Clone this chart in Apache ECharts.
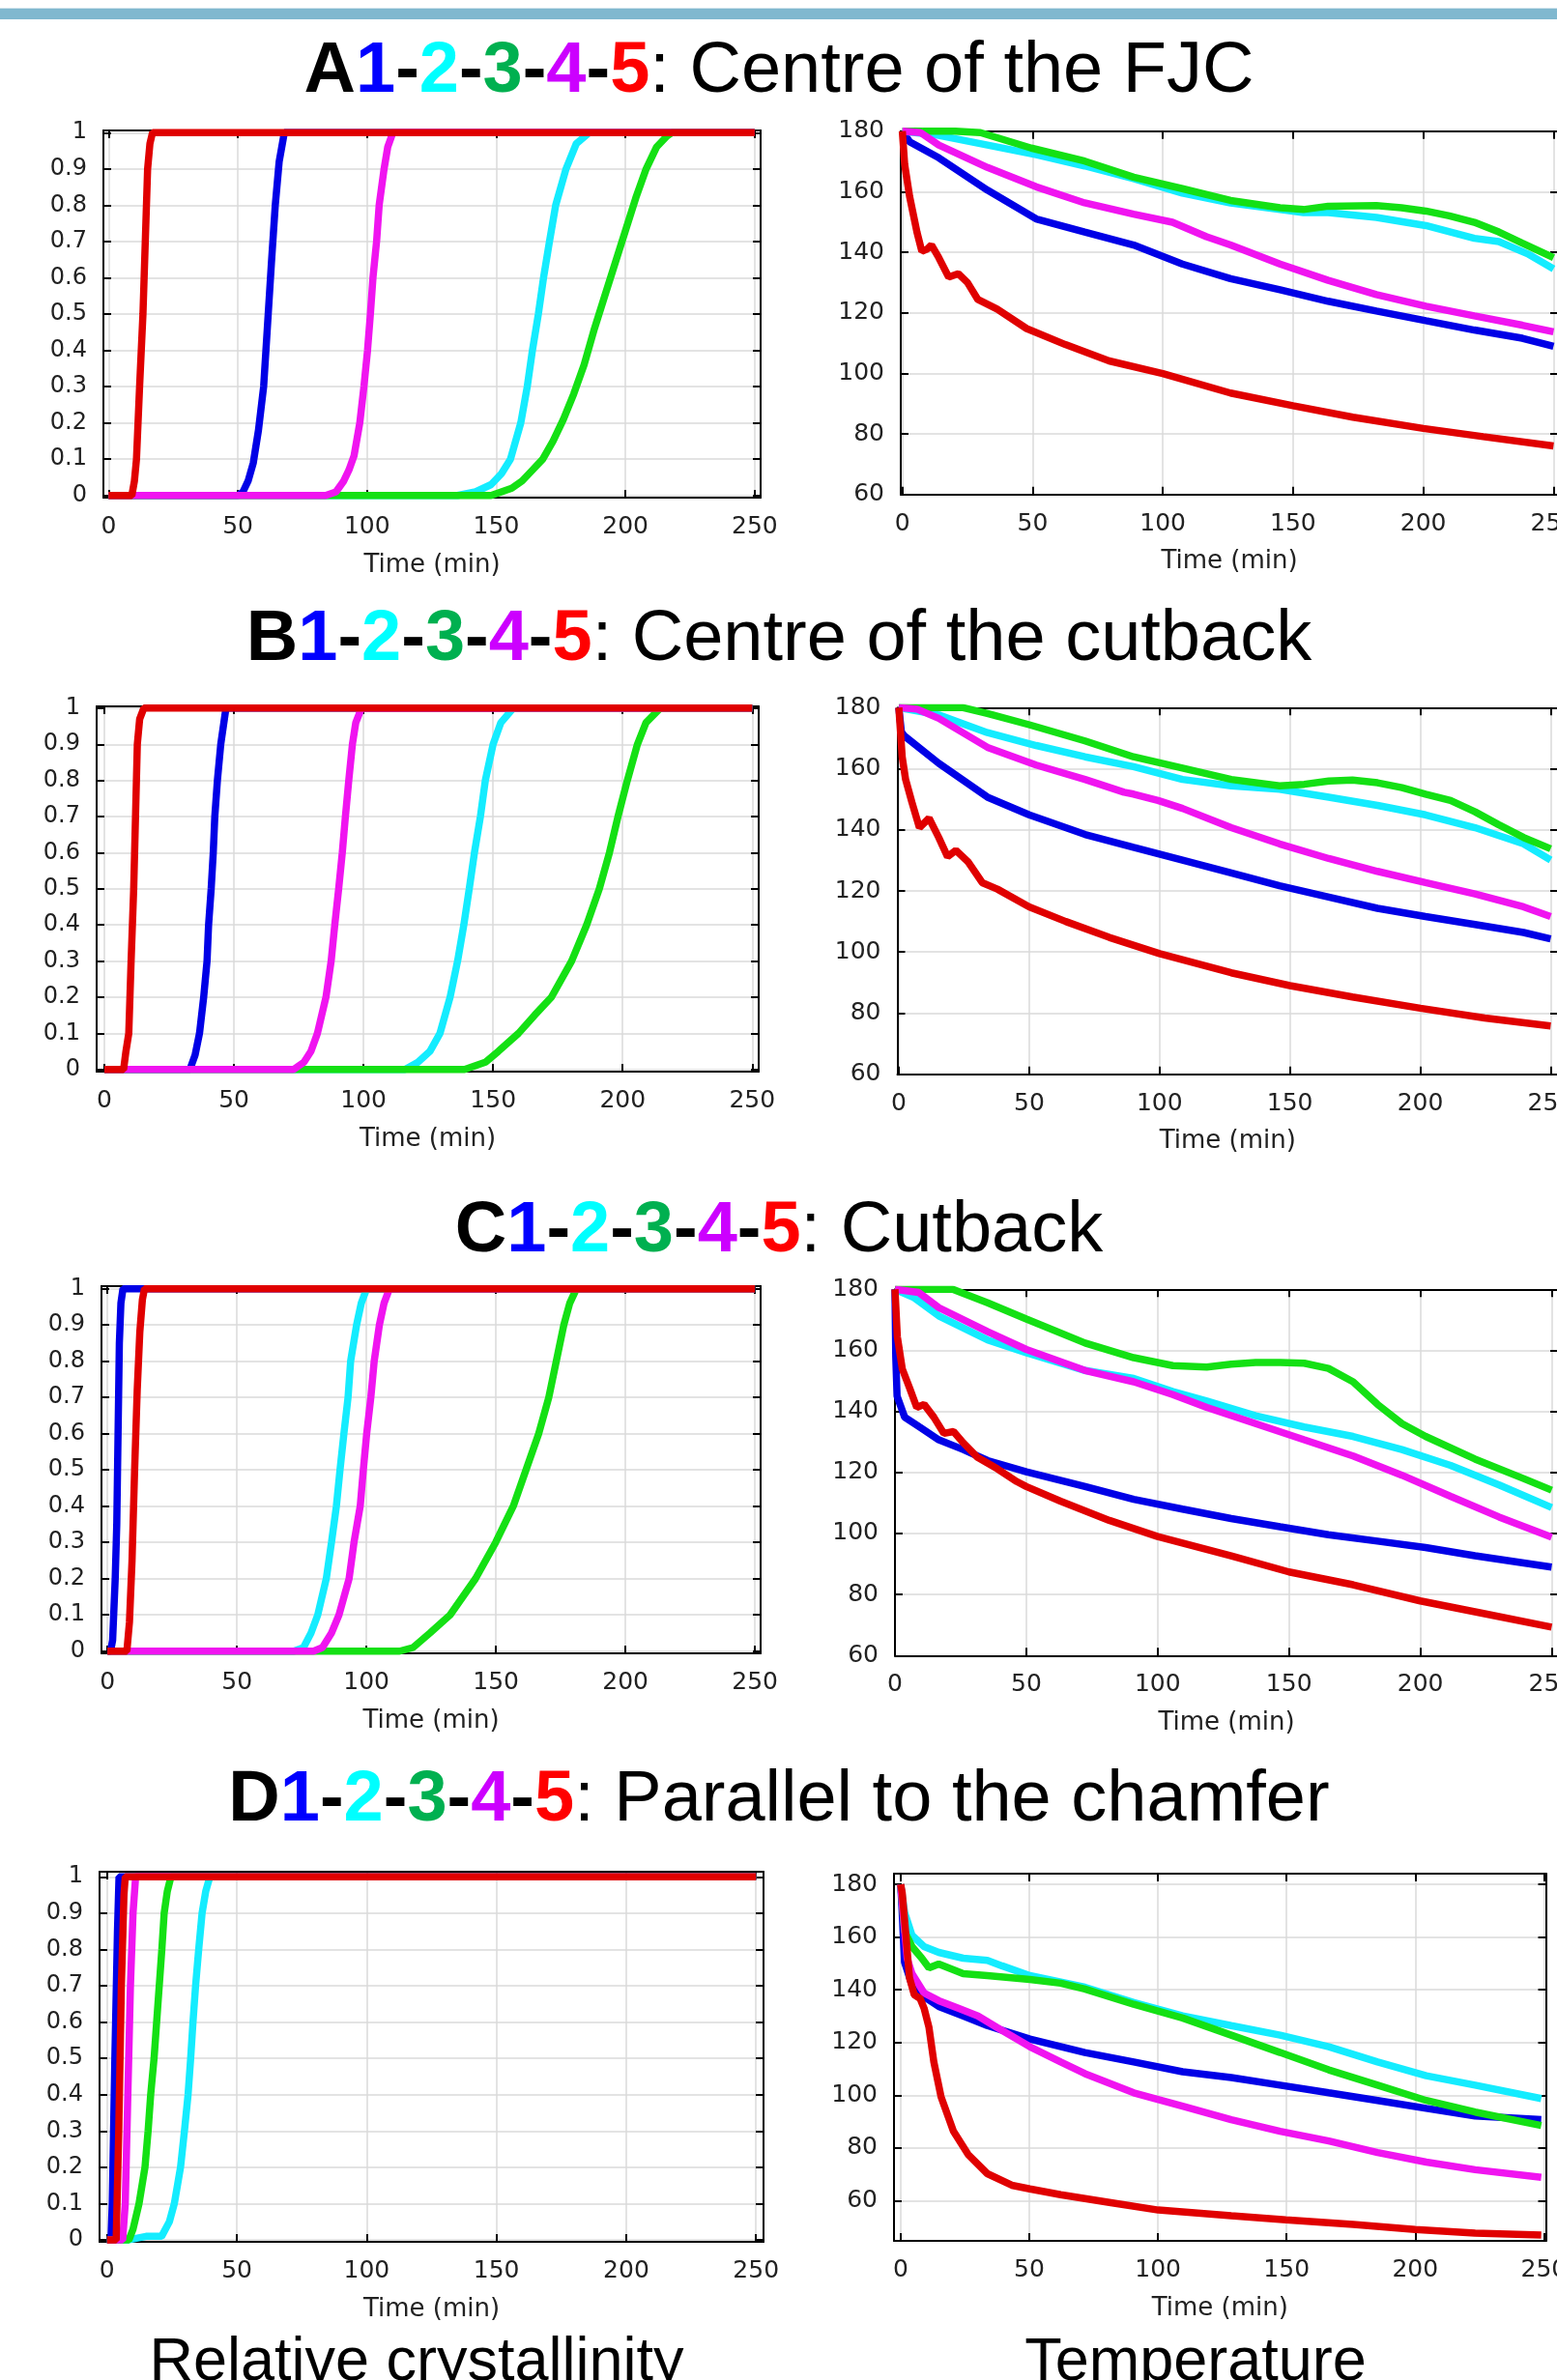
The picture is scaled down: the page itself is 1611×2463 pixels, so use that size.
<!DOCTYPE html>
<html>
<head>
<meta charset="utf-8">
<script src="https://cdn.jsdelivr.net/npm/echarts@6/dist/echarts.min.js"></script>
<style>
  html, body { margin: 0; padding: 0; background: #fff; }
  #main { width: 1611px; height: 2463px; }
</style>
</head>
<body>
<div id="main"></div>
<script type="text/javascript">
// tick labels
var timeTicks = [0, 50, 100, 150, 200, 250];
var crystTicks = [0, 0.1, 0.2, 0.3, 0.4, 0.5, 0.6, 0.7, 0.8, 0.9, 1];
var tempTicks = [60, 80, 100, 120, 140, 160, 180];

// curve names and colours (1 blue, 2 cyan, 3 green, 4 magenta, 5 red)
var curveNames = ['1', '2', '3', '4', '5'];
var curveColors = ['#0000e6', '#14ecff', '#14e014', '#f014f0', '#e00000'];

// A: centre of the FJC
var aCryst1 = [[0,0],[50,0],[52,0.01],[54,0.04],[56,0.09],[58,0.18],[60,0.3],[61.5,0.47],[63,0.64],[64.5,0.8],[66,0.92],[68,1],[250,1]];
var aCryst2 = [[0,0],[135,0],[142,0.01],[148,0.03],[152,0.06],[155.5,0.1],[159.5,0.2],[162,0.3],[164,0.4],[166.3,0.5],[168.3,0.6],[170.6,0.7],[173,0.8],[177,0.9],[181,0.97],[186,1],[250,1]];
var aCryst3 = [[0,0],[148,0],[152,0.01],[156,0.02],[160,0.04],[164,0.07],[168,0.1],[172,0.15],[176,0.21],[180,0.28],[184,0.36],[188,0.46],[192,0.55],[196,0.64],[200,0.73],[204,0.82],[208,0.9],[212,0.96],[216,0.99],[218,1],[250,1]];
var aCryst4 = [[0,0],[84,0],[88,0.01],[91,0.04],[93,0.07],[95,0.11],[97.2,0.2],[98.8,0.3],[100.2,0.4],[101.3,0.5],[102.3,0.6],[103.7,0.7],[104.7,0.8],[106.6,0.9],[108,0.96],[110,1],[250,1]];
var aCryst5 = [[0,0],[9,0],[10,0.04],[10.8,0.1],[12,0.3],[13.3,0.5],[14.2,0.7],[15.1,0.9],[16,0.97],[17,1],[250,1]];
var aTemp1 = [[0,180],[2.8,176.5],[14,171.2],[32.7,160.5],[51.4,151],[70,146.7],[88.8,142.4],[107.5,136.1],[126,131.3],[145,127.6],[163.5,123.8],[182,120.6],[201,117.4],[219.6,114.3],[238,111.6],[250,108.9]];
var aTemp2 = [[0,180],[14,178.6],[32.7,175.4],[51.4,172.2],[70,168.5],[88.8,164.3],[107.5,159.5],[126,156.3],[145,154.1],[154,153.1],[163.5,153.1],[182,151.5],[201,148.8],[219.6,144.6],[229,143.5],[240,139.5],[250,134.5]];
var aTemp3 = [[0,180],[20,180],[30,179.5],[49.5,174.4],[70,170.1],[88.8,164.8],[107.5,161],[126,157.1],[145,154.7],[154,154.1],[163.5,155.2],[182,155.4],[191.6,154.7],[201,153.6],[210,152],[219.6,149.9],[229,146.7],[238,143],[250,138.2]];
var aTemp4 = [[0,180],[7,179.5],[14,175.4],[32.7,168],[51.4,161.6],[70,156.3],[88.8,152.6],[103.7,149.9],[116.8,145.1],[126,142.4],[145,136.1],[163.5,130.7],[182,126],[201,122.2],[219.6,119],[238,115.9],[250,113.7]];
var aTemp5 = [[0,180],[0.9,169],[2.8,158.4],[5.6,146.7],[7.5,140.3],[9.5,141],[11.2,142.4],[14,138.2],[17.8,131.8],[21.5,132.9],[25,130],[29,124.4],[36.4,121.2],[47.7,114.8],[62.6,109.5],[79.4,104.1],[100,99.9],[126,93.5],[150,89.3],[173,85.5],[200,81.8],[223,79.1],[250,76]];

// B: centre of the cutback
var bCryst1 = [[0,0],[33,0],[35,0.04],[36.7,0.1],[38.3,0.2],[39.6,0.3],[40.2,0.4],[41.2,0.5],[42,0.6],[42.6,0.7],[43.6,0.8],[44.9,0.9],[46.9,1],[250,1]];
var bCryst2 = [[0,0],[116,0],[121,0.02],[125.6,0.05],[129.5,0.1],[133.4,0.2],[136.3,0.3],[138.7,0.4],[140.8,0.5],[142.8,0.6],[145.1,0.7],[147,0.8],[150,0.9],[153,0.96],[157.8,1],[250,1]];
var bCryst3 = [[0,0],[139,0],[147,0.02],[152,0.05],[159.8,0.1],[166,0.15],[172.5,0.2],[180.3,0.3],[186.1,0.4],[191,0.5],[194.9,0.6],[198.2,0.7],[201.8,0.8],[205.7,0.9],[209,0.96],[214.5,1],[250,1]];
var bCryst4 = [[0,0],[73,0],[77,0.02],[79.7,0.05],[82.2,0.1],[85.5,0.2],[87.5,0.3],[88.9,0.4],[90.4,0.5],[91.8,0.6],[93,0.7],[94.3,0.8],[95.7,0.9],[97,0.96],[99.2,1],[250,1]];
var bCryst5 = [[0,0],[7.4,0],[8.3,0.05],[9.4,0.1],[10.3,0.3],[11.3,0.5],[12,0.7],[12.7,0.9],[13.6,0.97],[15.2,1],[250,1]];
var bTemp1 = [[0,180],[1,172],[2.2,170.7],[15.3,161.8],[34,150.7],[50,144.9],[71.4,138.5],[90,134.3],[108.8,130.1],[127.5,125.9],[146,121.7],[164.9,118],[183.6,114.3],[202,111.6],[221,109],[239.6,106.4],[250,104.3]];
var bTemp2 = [[0,180],[15.3,177.6],[34,171.8],[52.7,167.6],[71.4,163.9],[90,160.7],[108.8,156.5],[127.5,154.4],[146,153.3],[164.9,150.7],[183.6,148],[202,144.9],[221,140.7],[239.6,135.4],[250,130.1]];
var bTemp3 = [[0,180],[24.7,180],[34,178.1],[50,174.4],[71.4,169.1],[90,163.9],[108.8,160.2],[127.5,156.5],[146,154.4],[155.5,154.9],[164.9,156],[174,156.3],[183.6,155.4],[193,153.8],[202,151.7],[211.6,149.6],[221,145.9],[230,141.7],[239.6,137.5],[250,133.8]];
var bTemp4 = [[0,180],[7,179.5],[15.3,176.5],[34,167],[52.7,161.2],[71.4,156.5],[86.4,152.3],[90,151.7],[99.4,149.6],[108.8,147],[127.5,140.7],[146,135.4],[164.9,130.6],[183.6,126.4],[202,122.7],[221,119],[239.6,114.8],[250,111.6]];
var bTemp5 = [[0,180],[1.3,163.9],[2.6,156.5],[5,149.1],[7.9,140.7],[11.6,143.8],[15.3,137.5],[18.7,131.2],[21.9,133.3],[26.5,129.6],[32,122.7],[37.8,120.6],[50,114.8],[64,110],[80.7,104.8],[100,99.5],[127.5,93.2],[150,89],[174,85.3],[200,81.6],[224.7,78.4],[250,75.8]];

// C: cutback
var cCryst1 = [[0,0],[1.2,0],[2,0.03],[3,0.2],[3.6,0.35],[4.1,0.6],[4.6,0.85],[5.2,0.96],[6,1],[250,1]];
var cCryst2 = [[0,0],[72,0],[75.7,0.01],[78.6,0.05],[81.2,0.1],[84.5,0.2],[86.5,0.3],[88.4,0.4],[89.8,0.5],[91.3,0.6],[92.9,0.7],[93.9,0.8],[96.2,0.9],[98,0.96],[100.1,1],[250,1]];
var cCryst3 = [[0,0],[112.8,0],[118,0.01],[124.5,0.05],[132.3,0.1],[142.1,0.2],[149.9,0.3],[156.7,0.4],[161.6,0.5],[166.5,0.6],[170.4,0.7],[173.3,0.8],[176.2,0.9],[178.5,0.96],[181.1,1],[250,1]];
var cCryst4 = [[0,0],[79.6,0],[83,0.01],[86.5,0.05],[89.4,0.1],[93.3,0.2],[95.2,0.3],[97.6,0.4],[98.8,0.5],[100.1,0.6],[101.7,0.7],[103,0.8],[105,0.9],[106.8,0.96],[108.9,1],[250,1]];
var cCryst5 = [[0,0],[7.5,0],[8.5,0.08],[9.5,0.25],[10.5,0.5],[11.5,0.72],[12.5,0.88],[13.5,0.97],[14.3,1],[250,1]];
var cTemp1 = [[0,180],[0.3,158],[0.8,145],[3.7,138.1],[9.3,134.9],[16.7,130.7],[26,127.5],[35.3,123.9],[50,120.2],[72.4,115.4],[90.9,111.2],[109.5,108],[128,104.9],[146.6,102.2],[165,99.6],[183.7,97.5],[202,95.4],[220.8,92.7],[250,89]];
var cTemp2 = [[0,180],[7.4,177.2],[16.7,171.3],[35.3,163.4],[50,159.2],[72.4,153.4],[90.9,150.8],[105.8,146.5],[118.7,143.4],[137.3,138.6],[155.8,134.9],[174.4,131.8],[193,127.5],[211.5,122.3],[230,115.9],[250,108.5]];
var cTemp3 = [[0,180],[22,180],[35.3,175.6],[50,170.3],[72.4,162.4],[90.9,157.6],[105.8,155],[118.7,154.5],[128,155.5],[137.3,156],[146.6,156],[155.8,155.8],[165,154.1],[174.4,149.7],[183.7,142.3],[193,136],[202,131.8],[220.8,124.4],[239.3,118],[250,114.2]];
var cTemp4 = [[0,180],[9,179],[16.7,174],[35.3,166.1],[50,160.3],[72.4,153.4],[90.9,149.7],[105.8,145.5],[118.7,141.3],[137.3,136],[155.8,130.7],[174.4,125.4],[193,119.1],[211.5,112.2],[230,105.4],[250,98.8]];
var cTemp5 = [[0,180],[0.9,164.5],[2.8,153.9],[5.6,147.6],[8.3,141.3],[11.1,142.3],[14.8,138.1],[18.6,132.8],[22.3,133.4],[26,129.7],[31.5,124.9],[39,121.2],[46.4,117],[50,115.4],[63,110.6],[81.6,104.3],[100,99],[128,92.7],[150,87.4],[174.4,83.2],[200,77.9],[224.5,73.7],[250,69.3]];

// D: parallel to the chamfer
var dCryst1 = [[0,0],[1.5,0],[2,0.1],[3,0.5],[4,0.85],[4.6,1],[250,1]];
var dCryst2 = [[0,0],[8,0],[15,0.01],[21,0.01],[24,0.05],[25.9,0.1],[28.3,0.2],[29.8,0.3],[31.2,0.4],[32.2,0.5],[33.1,0.6],[34.1,0.7],[35.3,0.8],[36.6,0.9],[38,0.96],[39.6,1],[250,1]];
var dCryst3 = [[0,0],[8.4,0],[10,0.03],[12.3,0.1],[14.6,0.2],[15.8,0.3],[16.8,0.4],[18.1,0.5],[19.1,0.6],[20.1,0.7],[21.1,0.8],[22,0.9],[23.2,0.96],[24.6,1],[250,1]];
var dCryst4 = [[0,0],[6,0],[7,0.1],[8,0.4],[9,0.7],[10,0.9],[11,1],[250,1]];
var dCryst5 = [[0,0],[3.5,0],[4.5,0.3],[5.5,0.7],[6.5,0.95],[7,1],[250,1]];
var dTemp1 = [[0,180],[0.5,171],[1.5,150.5],[4.4,141.8],[9.1,137.4],[14.8,133.7],[24.3,130.1],[33.7,126.4],[50.2,121.3],[71.6,116.2],[90.6,112.6],[109.6,108.9],[128.5,106.7],[147.5,103.8],[166.4,100.9],[185.4,98],[204.3,95],[223.3,92.1],[249,90.7]];
var dTemp2 = [[0,180],[1.5,169.5],[4.4,160.7],[9.1,156.4],[14.8,154.2],[24.3,152],[33.7,151.2],[39.4,149.1],[50.2,145.4],[71.6,141],[90.6,135.2],[109.6,130.1],[128.5,126.4],[147.5,122.8],[166.4,118.4],[185.4,112.6],[204.3,107.4],[223.3,103.8],[249,98.7]];
var dTemp3 = [[0,180],[1.5,162.2],[4.4,156.4],[8.2,152],[11,148.3],[14.8,149.8],[20.5,147.6],[24.3,146.1],[33.7,145.4],[50.2,143.9],[62.2,142.5],[71.6,140.3],[90.6,134.5],[109.6,129.3],[128.5,122.8],[147.5,116.2],[166.4,109.6],[185.4,103.8],[204.3,98],[223.3,93.6],[249,88.5]];
var dTemp4 = [[0,180],[2.5,152],[4.4,146.1],[9.1,138.8],[14.8,135.9],[22.4,133],[30,130.1],[37.5,125.7],[50.2,118.4],[62.2,112.6],[71.6,108.2],[90.6,100.9],[109.6,95.8],[128.5,90.7],[147.5,86.3],[166.4,82.6],[185.4,78.2],[204.3,74.6],[223.3,71.7],[249,68.8]];
var dTemp5 = [[0,180],[0.6,176.8],[1.9,162.2],[3.4,144.7],[5.3,138.1],[7.6,136.6],[9.1,133],[11,125.7],[12.9,112.6],[15.7,99.4],[20.5,86.3],[26.2,77.5],[33.7,70.2],[43.2,65.8],[50.2,64.4],[62.2,62.2],[81.1,59.3],[100.1,56.4],[128.5,54.2],[149.7,52.7],[175.9,50.9],[200,49],[223.3,47.6],[249,46.9]];

// panel frames (pixel boxes and axis ranges)
var panels = [
  { box: [107, 135, 680, 380],     x: [-2, 252.3],   y: [-0.006, 1.006], cryst: true,  curves: [aCryst1, aCryst2, aCryst3, aCryst4, aCryst5] },
  { box: [932, 135.7, 680, 376],   x: [-0.6, 251.7], y: [60, 180],       cryst: false, curves: [aTemp1, aTemp2, aTemp3, aTemp4, aTemp5] },
  { box: [100, 731, 685, 378],     x: [-3, 252.5],   y: [-0.006, 1.005], cryst: true,  curves: [bCryst1, bCryst2, bCryst3, bCryst4, bCryst5] },
  { box: [928.5, 732.3, 683.5, 379.4], x: [-0.55, 252.8], y: [60, 180], cryst: false, curves: [bTemp1, bTemp2, bTemp3, bTemp4, bTemp5] },
  { box: [105, 1331, 682, 380],    x: [-2.3, 252.2], y: [-0.006, 1.007], cryst: true,  curves: [cCryst1, cCryst2, cCryst3, cCryst4, cCryst5] },
  { box: [926, 1334.3, 686, 379],  x: [0, 252.4],    y: [60, 180],       cryst: false, curves: [cTemp1, cTemp2, cTemp3, cTemp4, cTemp5] },
  { box: [103, 1937, 687, 383],    x: [-2.9, 252.9], y: [-0.005, 1.014], cryst: true,  curves: [dCryst1, dCryst2, dCryst3, dCryst4, dCryst5] },
  { box: [925, 1939, 674.5, 380],  x: [-2.6, 250.8], y: [44.7, 184.1],   cryst: false, curves: [dTemp1, dTemp2, dTemp3, dTemp4, dTemp5] }
];

var labelFont = 'DejaVu Sans';
var labelColor = '#222';
var frameLine = { color: '#000', width: 2 };
var gridLine = { color: '#dadada', width: 1.5 };

var grids = [], xAxes = [], yAxes = [], series = [];

panels.forEach(function (p, gi) {
  grids.push({
    left: p.box[0], top: p.box[1], width: p.box[2], height: p.box[3],
    containLabel: false, outerBoundsMode: 'none'
  });
  var yTicks = p.cryst ? crystTicks : tempTicks;
  // bottom axis with labels
  xAxes.push({
    gridIndex: gi, type: 'value', position: 'bottom', min: p.x[0], max: p.x[1],
    axisLine: { show: true, onZero: false, lineStyle: frameLine },
    axisTick: { show: true, inside: true, length: 8, customValues: timeTicks, lineStyle: frameLine },
    axisLabel: { customValues: timeTicks, margin: 18, fontSize: 25, color: labelColor, fontFamily: labelFont },
    splitLine: { show: true, lineStyle: gridLine },
    name: 'Time (min)', nameLocation: 'middle', nameGap: 57,
    nameTextStyle: { fontSize: 26, color: labelColor, fontFamily: labelFont }
  });
  // top frame
  xAxes.push({
    gridIndex: gi, type: 'value', position: 'top', min: p.x[0], max: p.x[1],
    axisLine: { show: true, onZero: false, lineStyle: frameLine },
    axisTick: { show: true, inside: true, length: 8, customValues: timeTicks, lineStyle: frameLine },
    axisLabel: { show: false }, splitLine: { show: false }
  });
  yAxes.push({
    gridIndex: gi, type: 'value', position: 'left', min: p.y[0], max: p.y[1],
    axisLine: { show: true, onZero: false, lineStyle: frameLine },
    axisTick: { show: true, inside: true, length: 8, customValues: yTicks, lineStyle: frameLine },
    axisLabel: { customValues: yTicks, margin: 17, fontSize: p.cryst ? 24 : 25, color: labelColor, fontFamily: labelFont },
    splitLine: { show: true, lineStyle: gridLine }
  });
  yAxes.push({
    gridIndex: gi, type: 'value', position: 'right', min: p.y[0], max: p.y[1],
    axisLine: { show: true, onZero: false, lineStyle: frameLine },
    axisTick: { show: true, inside: true, length: 8, customValues: yTicks, lineStyle: frameLine },
    axisLabel: { show: false }, splitLine: { show: false }
  });
  p.curves.forEach(function (d, k) {
    series.push({
      name: curveNames[k], type: 'line',
      xAxisIndex: gi * 2, yAxisIndex: gi * 2,
      data: d, showSymbol: false, symbol: 'none', smooth: false,
      lineStyle: { color: curveColors[k], width: p.cryst ? 7.5 : 7.5 },
      clip: true, silent: true
    });
  });
});

var titleRich = {
  k:  { fontSize: 74, fontWeight: 'bold', fontFamily: 'Liberation Sans', fill: '#000', lineHeight: 84 },
  n1: { fontSize: 74, fontWeight: 'bold', fontFamily: 'Liberation Sans', fill: '#0000ff', lineHeight: 84 },
  n2: { fontSize: 74, fontWeight: 'bold', fontFamily: 'Liberation Sans', fill: '#00ffff', lineHeight: 84 },
  n3: { fontSize: 74, fontWeight: 'bold', fontFamily: 'Liberation Sans', fill: '#00b050', lineHeight: 84 },
  n4: { fontSize: 74, fontWeight: 'bold', fontFamily: 'Liberation Sans', fill: '#cc00ff', lineHeight: 84 },
  n5: { fontSize: 74, fontWeight: 'bold', fontFamily: 'Liberation Sans', fill: '#ff0000', lineHeight: 84 },
  t:  { fontSize: 74, fontWeight: 'normal', fontFamily: 'Liberation Sans', fill: '#000', lineHeight: 84 }
};

function titleText(letter, rest, y) {
  return {
    type: 'text', x: 806, y: y, silent: true,
    style: {
      text: '{k|' + letter + '}{n1|1}{k|-}{n2|2}{k|-}{n3|3}{k|-}{n4|4}{k|-}{n5|5}{t|: ' + rest + '}',
      rich: titleRich, align: 'center', verticalAlign: 'middle',
      textAlign: 'center', textVerticalAlign: 'middle'
    }
  };
}

function plainText(str, x, y) {
  return {
    type: 'text', x: x, y: y, silent: true,
    style: {
      text: str, fontSize: 63, fontFamily: 'Liberation Sans', fill: '#000',
      align: 'center', verticalAlign: 'middle', textAlign: 'center', textVerticalAlign: 'middle'
    }
  };
}

var myChart = echarts.init(document.getElementById('main'), null, { renderer: 'canvas' });
var option = {
  animation: false,
  backgroundColor: '#fff',
  grid: grids,
  xAxis: xAxes,
  yAxis: yAxes,
  series: series,
  graphic: [
    { type: 'rect', shape: { x: 0, y: 8, width: 1611, height: 1 }, style: { fill: '#cfe3ec' }, silent: true },
    { type: 'rect', shape: { x: 0, y: 9, width: 1611, height: 11 }, style: { fill: '#80b8cf' }, silent: true },
    titleText('A', 'Centre of the FJC', 75),
    titleText('B', 'Centre of the cutback', 663),
    titleText('C', 'Cutback', 1275),
    titleText('D', 'Parallel to the chamfer', 1864),
    plainText('Relative crystallinity', 431, 2446),
    plainText('Temperature', 1237, 2446)
  ]
};
myChart.setOption(option);
</script>
</body>
</html>
